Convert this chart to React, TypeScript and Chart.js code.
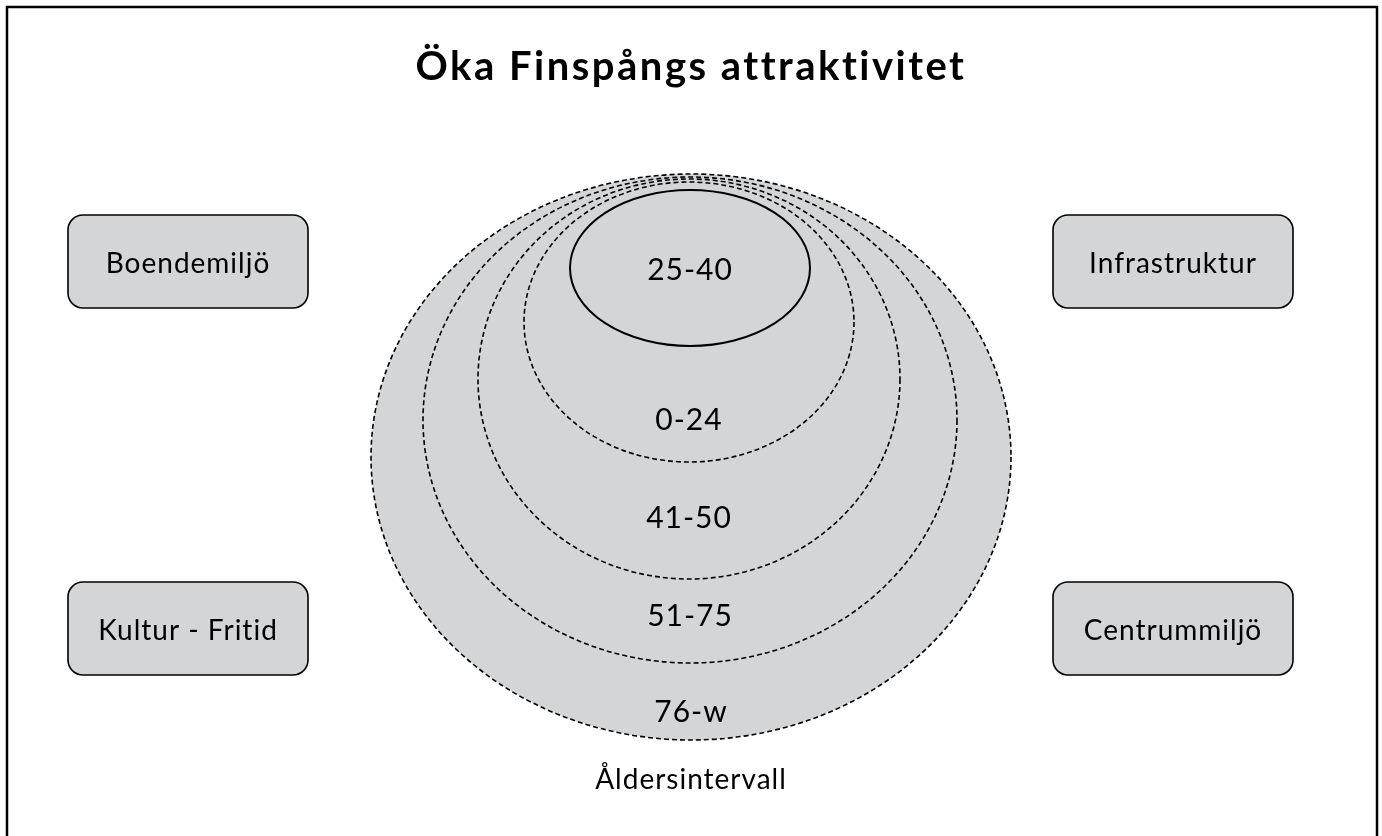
import React, { useEffect, useRef } from "react";
import { Chart, registerables } from "chart.js";

Chart.register(...registerables);

// ---- Data (diagram units: x 0..1382, y 0..836, top-down) ----
const titleText = "Öka Finspångs attraktivitet";
const axisLabel = "Åldersintervall";

// age groups, drawn from outermost to innermost
const ageGroups = ["76-w", "51-75", "41-50", "0-24", "25-40"];
const ringCenterX = [691, 690, 689, 689, 690];
const ringCenterY = [457, 420, 379, 322, 268];
const ringRadiusX = [320, 267, 211, 165, 120];
const ringRadiusY = [283, 243, 200, 140, 78];
const ringSolid = [false, false, false, false, true];
const ringLabelY = [712, 616, 518, 420, 270];

// factor boxes
const factors = ["Boendemiljö", "Infrastruktur", "Kultur - Fritid", "Centrummiljö"];
const factorLeft = [68, 1053, 68, 1053];
const factorRight = [308, 1293, 308, 1293];
const factorTop = [215, 215, 582, 582];
const factorBottom = [308, 308, 675, 675];

const FONT = "Lato, 'Open Sans', 'DejaVu Sans', sans-serif";
const GREY = "#d4d5d7";

const diagramPlugin = {
  id: "diagram",
  beforeDraw(chart: any) {
    const { ctx, width, height } = chart;
    ctx.save();
    ctx.fillStyle = "#ffffff";
    ctx.fillRect(0, 0, width, height);
    ctx.restore();
  },
  afterDatasetsDraw(chart: any) {
    const ctx = chart.ctx;
    const xs = chart.scales.x;
    const ys = chart.scales.y;
    const px = (v: number) => xs.getPixelForValue(v);
    const py = (v: number) => ys.getPixelForValue(v);
    ctx.save();

    // frame
    ctx.strokeStyle = "#000";
    ctx.lineWidth = 2.5;
    ctx.strokeRect(px(7), py(7), px(1377) - px(7), py(845) - py(7));

    // title
    ctx.fillStyle = "#000";
    ctx.textAlign = "center";
    ctx.textBaseline = "middle";
    ctx.font = `bold 40px ${FONT}`;
    (ctx as any).letterSpacing = "2.5px";
    ctx.fillText(titleText, px(691), py(67));

    // rings
    (ctx as any).letterSpacing = "0px";
    for (let i = 0; i < ageGroups.length; i++) {
      const cx = px(ringCenterX[i]);
      const cy = py(ringCenterY[i]);
      const rx = Math.abs(px(ringCenterX[i] + ringRadiusX[i]) - cx);
      const ry = Math.abs(py(ringCenterY[i] + ringRadiusY[i]) - cy);
      ctx.beginPath();
      ctx.ellipse(cx, cy, rx, ry, 0, 0, Math.PI * 2);
      ctx.fillStyle = GREY;
      ctx.fill();
      ctx.strokeStyle = "#000";
      if (ringSolid[i]) {
        ctx.setLineDash([]);
        ctx.lineWidth = 2;
      } else {
        ctx.setLineDash([5, 3]);
        ctx.lineWidth = 1.6;
      }
      ctx.stroke();
    }
    ctx.setLineDash([]);

    // ring labels
    ctx.fillStyle = "#000";
    ctx.font = `30px ${FONT}`;
    (ctx as any).letterSpacing = "1px";
    for (let i = 0; i < ageGroups.length; i++) {
      ctx.fillText(ageGroups[i], px(ringCenterX[i]), py(ringLabelY[i]));
    }

    // axis label
    ctx.font = `28px ${FONT}`;
    ctx.fillText(axisLabel, px(691), py(780));

    // factor boxes
    for (let i = 0; i < factors.length; i++) {
      const l = px(factorLeft[i]);
      const r = px(factorRight[i]);
      const t = py(factorTop[i]);
      const b = py(factorBottom[i]);
      ctx.beginPath();
      ctx.roundRect(l, t, r - l, b - t, 15);
      ctx.fillStyle = GREY;
      ctx.fill();
      ctx.lineWidth = 1.6;
      ctx.strokeStyle = "#000";
      ctx.stroke();
      ctx.fillStyle = "#000";
      ctx.font = `28px ${FONT}`;
      (ctx as any).letterSpacing = "1px";
      ctx.fillText(factors[i], (l + r) / 2, (t + b) / 2 + 2);
    }
    ctx.restore();
  },
};

export default function App() {
  const ref = useRef<HTMLCanvasElement>(null);
  useEffect(() => {
    if (!ref.current) return;
    const chart = new Chart(ref.current, {
      type: "scatter",
      data: {
        datasets: [
          {
            label: "Åldersgrupper",
            data: ageGroups.map((_, i) => ({ x: ringCenterX[i], y: ringLabelY[i] })),
            pointRadius: 0,
            showLine: false,
          },
        ],
      },
      options: {
        animation: false,
        responsive: false,
        layout: { padding: 0 },
        events: [],
        plugins: {
          legend: { display: false },
          tooltip: { enabled: false },
          title: { display: false },
        },
        scales: {
          x: { type: "linear", min: 0, max: 1382, display: false },
          y: { type: "linear", min: 0, max: 836, reverse: true, display: false },
        },
      },
      plugins: [diagramPlugin],
    });
    return () => chart.destroy();
  }, []);
  return (
    <div style={{ position: "absolute", left: 0, top: 0, width: 1382, height: 836 }}>
      <canvas ref={ref} width={1382} height={836} style={{ display: "block" }} />
    </div>
  );
}
